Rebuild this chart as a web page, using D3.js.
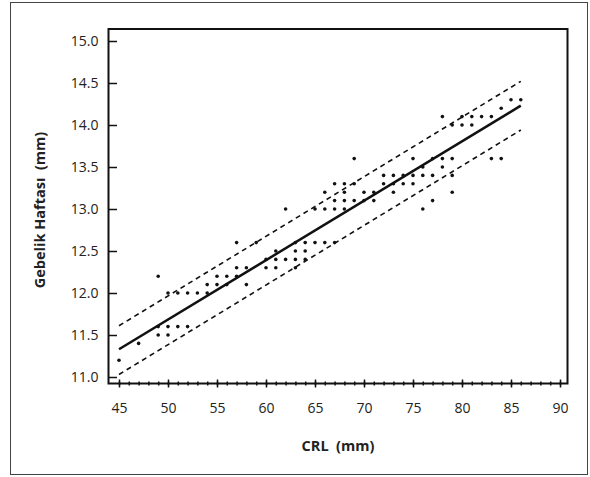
<!DOCTYPE html>
<html>
<head>
<meta charset="utf-8">
<script src="https://cdn.jsdelivr.net/npm/d3@7"></script>
<style>
  html, body { margin: 0; padding: 0; background: #fff; }
  svg text { font-family: "Open Sans", "Noto Sans", sans-serif; }
</style>
</head>
<body>
<svg id="chart" width="590" height="477"></svg>
<script>
// ---- data ----
const crl = [45,47,49,49,49,50,50,50,51,51,52,52,53,54,54,55,55,56,56,57,57,57,58,58,59,60,60,61,61,61,62,62,63,63,63,63,64,64,64,65,65,66,66,66,67,67,67,67,68,68,68,68,69,69,69,70,70,71,71,72,72,73,73,73,74,74,75,75,75,76,76,76,77,77,77,78,78,78,79,79,79,79,80,80,81,81,82,83,83,84,84,85,86];
const week = [11.2,11.4,12.2,11.6,11.5,12.0,11.6,11.5,12.0,11.6,12.0,11.6,12.0,12.0,12.1,12.1,12.2,12.1,12.2,12.2,12.3,12.6,12.3,12.1,12.6,12.3,12.4,12.4,12.3,12.5,13.0,12.4,12.4,12.5,12.6,12.3,12.4,12.5,12.6,12.6,13.0,12.6,13.0,13.2,12.6,13.3,13.1,13.0,13.3,13.2,13.1,13.0,13.3,13.1,13.6,13.2,13.1,13.2,13.1,13.4,13.3,13.4,13.3,13.2,13.4,13.3,13.6,13.4,13.3,13.5,13.4,13.0,13.6,13.4,13.1,14.1,13.6,13.5,13.6,13.4,13.2,14.0,14.1,14.0,14.1,14.0,14.1,14.1,13.6,14.2,13.6,14.3,14.3];
const fitX = [45, 86];
const fitY = [11.33, 14.23];
const upperY = [11.61, 14.52];
const lowerY = [11.03, 13.94];
const xMajorTicks = [45,50,55,60,65,70,75,80,85,90];
const yMajorTicks = [11.0,11.5,12.0,12.5,13.0,13.5,14.0,14.5,15.0];
const xTitle = "CRL  (mm)";
const yTitle = "Gebelik Haftası  (mm)";

// ---- layout ----
const svg = d3.select("#chart");
const x = d3.scaleLinear().domain([45, 90]).range([119, 560]);
const y = d3.scaleLinear().domain([11, 15]).range([377, 41]);
const boxL = 108.5, boxR = 567.5, boxT = 29, boxB = 383.5;

// outer frame
svg.append("rect").attr("x", 10.5).attr("y", 2.5).attr("width", 577).attr("height", 472)
  .attr("fill", "none").attr("stroke", "#444").attr("stroke-width", 1);

// plot box
svg.append("rect").attr("x", boxL).attr("y", boxT).attr("width", boxR - boxL).attr("height", boxB - boxT)
  .attr("fill", "none").attr("stroke", "#111").attr("stroke-width", 2);

// y ticks (inward)
const yMinor = d3.range(110, 151).map(v => v / 10);
const gy = svg.append("g").attr("transform", `translate(${boxL},0)`);
gy.call(d3.axisRight(y).tickValues(yMinor).tickSize(4.5).tickFormat(""))
  .call(g => g.select(".domain").remove());
gy.call(d3.axisRight(y).tickValues(yMajorTicks).tickSize(8.5).tickFormat(""))
  .call(g => g.select(".domain").remove());
gy.selectAll("line").attr("stroke", "#111").attr("stroke-width", 1.5);

// y labels
const gyl = svg.append("g").attr("transform", `translate(${boxL},0)`);
gyl.call(d3.axisLeft(y).tickValues(yMajorTicks).tickSize(0).tickPadding(10).tickFormat(d3.format(".1f")))
  .call(g => g.select(".domain").remove());
gyl.selectAll("text").attr("font-size", 14).attr("fill", "#222")
  .style("font-family", '"Open Sans", "Noto Sans", sans-serif');

// x ticks (crossing)
const xMinor = d3.range(45, 91);
const gx1 = svg.append("g").attr("transform", `translate(0,${boxB - 2})`);
gx1.call(d3.axisBottom(x).tickValues(xMinor).tickSize(4).tickFormat(""))
  .call(g => g.select(".domain").remove());
const gx2 = svg.append("g").attr("transform", `translate(0,${boxB - 4})`);
gx2.call(d3.axisBottom(x).tickValues(xMajorTicks).tickSize(8).tickFormat(""))
  .call(g => g.select(".domain").remove());
svg.selectAll("g line").filter(function(){ return this.parentNode.parentNode === gx1.node() || this.parentNode.parentNode === gx2.node(); })
  .attr("stroke", "#111").attr("stroke-width", 1.5);

// x labels
const gxl = svg.append("g").attr("transform", `translate(0,${boxB})`);
gxl.call(d3.axisBottom(x).tickValues(xMajorTicks).tickSize(0).tickPadding(20))
  .call(g => g.select(".domain").remove());
gxl.selectAll("text").attr("font-size", 14).attr("fill", "#222")
  .style("font-family", '"Open Sans", "Noto Sans", sans-serif');

// titles
svg.append("text").attr("x", 338).attr("y", 451).attr("text-anchor", "middle")
  .attr("font-size", 14.5).attr("font-weight", "bold").attr("fill", "#222")
  .style("white-space", "pre").text(xTitle);
svg.append("text").attr("transform", "translate(45,210) rotate(-90)").attr("text-anchor", "middle")
  .attr("font-size", 14.5).attr("font-weight", "bold").attr("fill", "#222")
  .style("white-space", "pre").text(yTitle);

// lines
const line = d3.line().x(d => x(d[0])).y(d => y(d[1]));
svg.append("path").datum(d3.zip(fitX, upperY)).attr("d", line)
  .attr("fill", "none").attr("stroke", "#111").attr("stroke-width", 1.6).attr("stroke-dasharray", "5,4");
svg.append("path").datum(d3.zip(fitX, lowerY)).attr("d", line)
  .attr("fill", "none").attr("stroke", "#111").attr("stroke-width", 1.6).attr("stroke-dasharray", "5,4");
svg.append("path").datum(d3.zip(fitX, fitY)).attr("d", line)
  .attr("fill", "none").attr("stroke", "#111").attr("stroke-width", 2.5);

// points
svg.append("g").selectAll("circle").data(d3.zip(crl, week)).join("circle")
  .attr("cx", d => x(d[0])).attr("cy", d => y(d[1])).attr("r", 1.8).attr("fill", "#111");
</script>
</body>
</html>
